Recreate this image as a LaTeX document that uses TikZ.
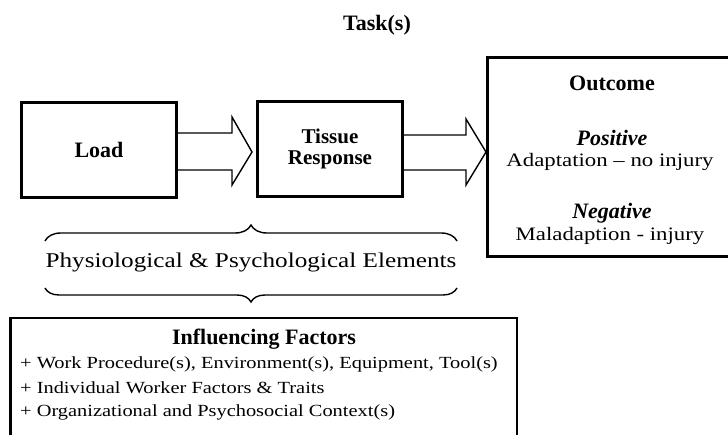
\documentclass[tikz,border=0pt]{standalone}
\usepackage{fontspec}
\setmainfont{Liberation Serif}
\newfontfamily\widefont{Liberation Serif}[FakeStretch=1.2, Ligatures=TeX]
\usetikzlibrary{positioning, calc, decorations.pathreplacing}
\tikzset{
    stagebox/.style={rectangle, draw=black, line width=3pt, align=center, font=\fontsize{22}{21}\selectfont\bfseries},
    blockarrow/.style={draw=black, line width=1.4pt, line join=miter},
    bracepath/.style={decorate, decoration={brace, amplitude=#1}, line width=1.4pt},
    plaintext/.style={font=\widefont\fontsize{#1}{#1}\selectfont, inner sep=0pt},
    boldtext/.style={font=\fontsize{22}{22}\selectfont\bfseries, inner sep=0pt},
}

\begin{document}
\begin{tikzpicture}[x=1pt, y=-1pt,
  outcomebox/.style={rectangle, draw=black, line width=3pt, minimum width=247.5pt, minimum height=199pt},
  factorbox/.style={rectangle, draw=black, line width=2.5pt, minimum width=506.5pt, minimum height=142pt}
]
\useasboundingbox (0,0) rectangle (728,435);

% Task chain
\node[boldtext] (task) at (377,25) {Task(s)};
\node[stagebox, minimum width=155pt, minimum height=95pt] (load) at (99,150) {Load};
\node[stagebox, minimum width=145pt, minimum height=95pt, font=\fontsize{21}{21}\selectfont\bfseries] (tissue) at (330,149) {Tissue\\Response};
\node[outcomebox] (outcome) at (611.25,157) {};

% Outcome texts
\node[boldtext] (otitle) at (612,83) {Outcome};
\node[boldtext, font=\fontsize{22}{22}\selectfont\bfseries\itshape] (pos) at (612,138) {Positive};
\node[plaintext=19] (adapt) at (610,162) {Adaptation -- no injury};
\node[boldtext, font=\fontsize{22}{22}\selectfont\bfseries\itshape] (neg) at (612,213) {Negative};
\node[plaintext=19] (maladapt) at (610,236) {Maladaption - injury};

% Block arrows
\draw[blockarrow] ($(load.east)+(0,-17)$) -- ($(tissue.west)+(-24,-16)$) -- ($(tissue.west)+(-24,-32)$)
  -- ($(tissue.west)+(-4,3)$) -- ($(tissue.west)+(-24,36)$) -- ($(tissue.west)+(-24,21)$) -- ($(load.east)+(0,20)$);
\draw[blockarrow] ($(tissue.east)+(0,-14)$) -- ($(outcome.west)+(-20,-22)$) -- ($(outcome.west)+(-20,-38)$)
  -- ($(outcome.west)+(0,-5)$) -- ($(outcome.west)+(-20,28)$) -- ($(outcome.west)+(-20,13)$) -- ($(tissue.east)+(0,21)$);

% Elements between the braces
\node[plaintext=21] (phys) at (251,262) {Physiological \& Psychological Elements};
\coordinate (topL) at (45,241);
\coordinate (topR) at (457,241);
\coordinate (botL) at (45,288);
\coordinate (botR) at (457,288);
\draw[bracepath=16pt] (topL) -- (topR);
\draw[bracepath=14pt] (botR) -- (botL);

% Influencing factors
\node[factorbox] (factors) at (263.5,389.25) {};
\node[boldtext] (ftitle) at (264,339) {Influencing Factors};
\node[plaintext=17, anchor=west] (f1) at (20,364) {+ Work Procedure(s), Environment(s), Equipment, Tool(s)};
\node[plaintext=17, anchor=west] (f2) at (20,388) {+ Individual Worker Factors \& Traits};
\node[plaintext=17, anchor=west] (f3) at (20,412) {+ Organizational and Psychosocial Context(s)};
\end{tikzpicture}
\end{document}
